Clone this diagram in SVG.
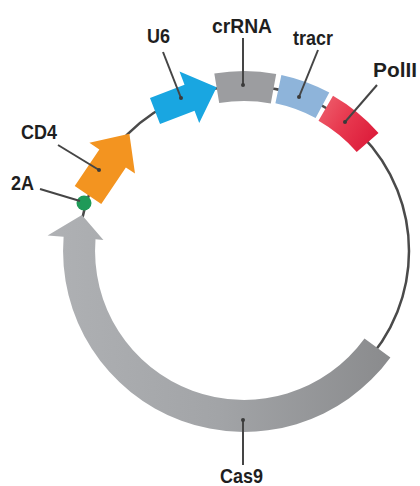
<svg xmlns="http://www.w3.org/2000/svg" width="420" height="486" viewBox="0 0 420 486">
  <defs>
    <linearGradient id="gCas9" x1="0" y1="0" x2="1" y2="0">
      <stop offset="0" stop-color="#AFB1B4"/>
      <stop offset="0.5" stop-color="#A2A4A7"/>
      <stop offset="1" stop-color="#8A8B8D"/>
    </linearGradient>
    <linearGradient id="gPol" x1="0" y1="0" x2="1" y2="0.6">
      <stop offset="0" stop-color="#EE6470"/>
      <stop offset="0.5" stop-color="#E83A50"/>
      <stop offset="1" stop-color="#DD1E3C"/>
    </linearGradient>
    <style>
      .lbl { font-family: "Liberation Sans", Arial, sans-serif; font-weight: bold; font-size: 21px; fill: #1f1f1f; }
      .lead { stroke: #454545; stroke-width: 2; fill: none; }
      .tip { fill: #3a3a3a; }
      .bb { stroke: #4a4a4a; stroke-width: 2.5; fill: none; }
    </style>
  </defs>
  <rect width="420" height="486" fill="#ffffff"/>

  <g id="connectors">
    <circle class="bb" cx="244" cy="251" r="165"/>
  </g>

  <g id="cas9">
    <path d="M 390.4,357.4 A 181 181 0 0 1 63.6,236.8 L 47.6,235.5 L 81.9,215.1 L 103.4,239.9 L 95.5,239.3 A 149 149 0 0 0 364.5,338.6 Z" fill="url(#gCas9)"/>
  </g>

  <g id="crRNA">
    <path d="M 214.3,73.5 A 180 180 0 0 1 276.2,73.9 L 270.8,103.4 A 150 150 0 0 0 219.2,103.1 Z" fill="#9C9DA0"/>
  </g>

  <g id="tracr">
    <path d="M 281.4,74.9 A 180 180 0 0 1 329.3,92.5 L 315.6,118.0 A 151 151 0 0 0 275.4,103.3 Z" fill="#8EB4DA"/>
  </g>

  <g id="PolII">
    <path d="M 333.0,95.7 A 179 179 0 0 1 378.5,132.9 L 356.7,152.0 A 150 150 0 0 0 318.5,120.8 Z" fill="url(#gPol)"/>
  </g>

  <g id="U6">
    <polygon transform="translate(155,111) rotate(-21)" points="0,-14 37,-14 37,-28 66,0 37,27 37,14 0,14" fill="#19A6E1"/>
  </g>

  <g id="CD4">
    <polygon transform="translate(88,195) rotate(-56)" points="0,-16 44,-16 44,-28 74,0 44,27 44,16 0,16" fill="#F39420"/>
  </g>

  <g id="twoA">
    <circle cx="84" cy="203" r="7.5" fill="#1F9A58"/>
  </g>

  <g id="labels">
    <line class="lead" x1="163" y1="52" x2="181" y2="98"/>
    <circle class="tip" cx="181" cy="98" r="2"/>
    <text class="lbl" x="147" y="43" textLength="23" lengthAdjust="spacingAndGlyphs">U6</text>

    <line class="lead" x1="58" y1="145" x2="99" y2="170"/>
    <circle class="tip" cx="99" cy="170" r="2"/>
    <text class="lbl" x="21" y="139" textLength="36" lengthAdjust="spacingAndGlyphs">CD4</text>

    <line class="lead" x1="40" y1="189" x2="80" y2="201"/>
    <text class="lbl" x="11" y="190" textLength="23" lengthAdjust="spacingAndGlyphs">2A</text>

    <line class="lead" x1="243" y1="38" x2="243" y2="85"/>
    <circle class="tip" cx="243" cy="85" r="2"/>
    <text class="lbl" x="212" y="33" textLength="60" lengthAdjust="spacingAndGlyphs">crRNA</text>

    <line class="lead" x1="318" y1="50" x2="299" y2="97"/>
    <circle class="tip" cx="299" cy="97" r="2"/>
    <text class="lbl" x="293" y="45" textLength="40" lengthAdjust="spacingAndGlyphs">tracr</text>

    <line class="lead" x1="377" y1="85" x2="345" y2="122"/>
    <circle class="tip" cx="345" cy="122" r="2"/>
    <text class="lbl" x="373" y="77" textLength="44" lengthAdjust="spacingAndGlyphs">PolII</text>

    <line class="lead" x1="243" y1="465" x2="243" y2="420"/>
    <circle class="tip" cx="243" cy="420" r="2"/>
    <text class="lbl" x="220" y="483" textLength="43" lengthAdjust="spacingAndGlyphs">Cas9</text>
  </g>
</svg>
